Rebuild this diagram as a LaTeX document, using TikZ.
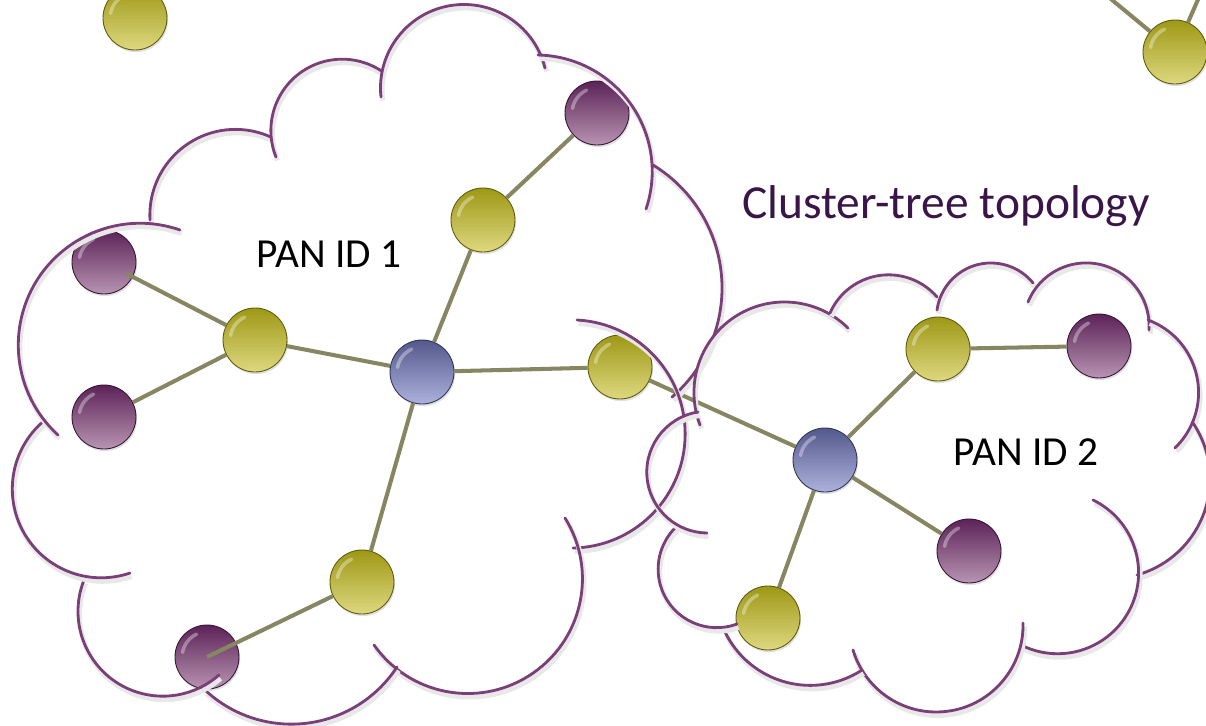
\documentclass[tikz,border=0pt]{standalone}
\usepackage{fontspec}
\setmainfont{Carlito}
\usepackage{xcolor}
\usepackage{tikz}
\usetikzlibrary{shadows}

\definecolor{linkgray}{RGB}{134,134,98}
\definecolor{cloudpurple}{RGB}{122,62,120}
\definecolor{titlepurple}{RGB}{58,21,72}
\definecolor{ytop}{RGB}{158,152,22}
\definecolor{ybot}{RGB}{222,216,128}
\definecolor{ptop}{RGB}{92,35,88}
\definecolor{pbot}{RGB}{184,148,178}
\definecolor{btop}{RGB}{84,89,140}
\definecolor{bbot}{RGB}{172,177,220}

\begin{document}
\begin{tikzpicture}[x=0.02cm,y=-0.02cm]
    \tikzstyle{ball}=[circle,minimum size=1.28cm,inner sep=0pt,line width=0.5pt,
        drop shadow={opacity=0.25,shadow xshift=0.6pt,shadow yshift=-1.2pt},
        path picture={\draw[white,opacity=0.35,line width=2pt,line cap=round]
            ([shift={(-0.49cm,0.09cm)}]path picture bounding box.center)
            arc[start angle=170,end angle=115,radius=0.5cm];}]
    \tikzstyle{yball}=[ball,top color=ytop,bottom color=ybot,draw=ytop!60!black]
    \tikzstyle{pball}=[ball,top color=ptop,bottom color=pbot,draw=ptop!60!black]
    \tikzstyle{bball}=[ball,top color=btop,bottom color=bbot,draw=btop!60!black]
    \tikzstyle{link}=[draw=linkgray,line width=2.3pt]
    \tikzstyle{cloudline}=[draw=cloudpurple,line width=1.6pt,line cap=round]
    \tikzstyle{cloudshadow}=[draw=black!9,line width=2.8pt,shift={(0.9pt,-2pt)}]
    \tikzstyle{label}=[font=\fontsize{23.5}{28}\selectfont,anchor=base]

    \clip (0,0) rectangle (1206,726);

    % one bump of a cloud: circular arc from #1,#2 through #3,#4 to #5,#6
    \newcommand{\cloudbump}[6]{%
      \pgfmathsetmacro{\cbax}{#1/100}\pgfmathsetmacro{\cbay}{#2/100}%
      \pgfmathsetmacro{\cbbx}{#3/100}\pgfmathsetmacro{\cbby}{#4/100}%
      \pgfmathsetmacro{\cbcx}{#5/100}\pgfmathsetmacro{\cbcy}{#6/100}%
      \pgfmathsetmacro{\cbd}{2*(\cbax*(\cbby-\cbcy)+\cbbx*(\cbcy-\cbay)+\cbcx*(\cbay-\cbby))}%
      \pgfmathsetmacro{\cbsa}{\cbax*\cbax+\cbay*\cbay}%
      \pgfmathsetmacro{\cbsb}{\cbbx*\cbbx+\cbby*\cbby}%
      \pgfmathsetmacro{\cbsc}{\cbcx*\cbcx+\cbcy*\cbcy}%
      \pgfmathsetmacro{\cbux}{(\cbsa*(\cbby-\cbcy)+\cbsb*(\cbcy-\cbay)+\cbsc*(\cbay-\cbby))/\cbd}%
      \pgfmathsetmacro{\cbuy}{(\cbsa*(\cbcx-\cbbx)+\cbsb*(\cbax-\cbcx)+\cbsc*(\cbbx-\cbax))/\cbd}%
      \pgfmathsetmacro{\cbr}{100*veclen(\cbax-\cbux,\cbay-\cbuy)}%
      \pgfmathsetmacro{\cbta}{atan2(\cbay-\cbuy,\cbax-\cbux)}%
      \pgfmathsetmacro{\cbtb}{atan2(\cbby-\cbuy,\cbbx-\cbux)}%
      \pgfmathsetmacro{\cbtc}{atan2(\cbcy-\cbuy,\cbcx-\cbux)}%
      \pgfmathsetmacro{\cbsw}{mod(\cbtc-\cbta+720,360)}%
      \pgfmathsetmacro{\cbtw}{mod(\cbtb-\cbta+720,360)}%
      \pgfmathsetmacro{\cbte}{\cbtw<\cbsw ? \cbta+\cbsw : \cbta+\cbsw-360}%
      \draw[cloudshadow] (#1,#2) arc[start angle=\cbta,end angle=\cbte,radius=\cbr];
      \draw[cloudline] (#1,#2) arc[start angle=\cbta,end angle=\cbte,radius=\cbr];}

    % nodes
    \coordinate (outA) at (1100,-10);
    \coordinate (outB) at (1200,-5);

    \node[yball] (Y0) at (135,18) {};
    \node[yball] (Ytr) at (1175,52) {};

    \node[bball] (C1) at (422,372) {};
    \node[yball] (Y1) at (483,220) {};
    \node[pball] (P1) at (597,113) {};
    \node[yball] (Y2) at (255,340) {};
    \node[pball] (P2) at (104,262) {};
    \node[pball] (P3) at (104,417) {};
    \node[yball] (Y3) at (620,367) {};
    \node[yball] (Y4) at (362,582) {};
    \node[pball] (P4) at (207,657) {};

    \node[bball] (C2) at (825,460) {};
    \node[yball] (Y5) at (938,349) {};
    \node[pball] (P5) at (1099,346) {};
    \node[pball] (P6) at (969,551) {};
    \node[yball] (Y6) at (768,618) {};

    % links
    \draw[link] (Ytr) -- (outA);
    \draw[link] (Ytr) -- (outB);
    \draw[link] (C1) -- (Y1);
    \draw[link] (Y1) -- (P1);
    \draw[link] (C1) -- (Y2);
    \draw[link] (Y2) -- (P3);
    \draw[link] (C1) -- (Y3);
    \draw[link] (C1) -- (Y4);
    \draw[link] (Y3) -- (C2);
    \draw[link] (C2) -- (Y5);
    \draw[link] (Y5) -- (P5);
    \draw[link] (C2) -- (P6);
    \draw[link] (C2) -- (Y6);
    \draw[link,shorten >=0.5cm] (Y2) -- (P2.center);
    \draw[link] (Y4) -- (P4.center);

    % cloud 1
    \cloudbump{150}{220}{205}{135}{273}{138}
    \cloudbump{276}{157}{300}{73}{383}{72}
    \cloudbump{381}{97}{420}{17}{545}{68}
    \cloudbump{538}{55}{630}{103}{646}{209}
    \cloudbump{653}{165}{722}{290}{672}{397}
    \cloudbump{577}{320}{684}{450}{573}{548}
    \cloudbump{565}{518}{527}{677}{374}{645}
    \cloudbump{397}{667}{297}{724}{205}{690}
    \cloudbump{84}{580}{113}{680}{219}{675}
    \cloudbump{45}{420}{13}{500}{130}{573}
    \cloudbump{180}{230}{33}{287}{58}{435}

    % cloud 2
    \cloudbump{700}{425}{719}{330}{848}{328}
    \cloudbump{830}{313}{893}{275}{937}{297}
    \cloudbump{937}{310}{990}{263}{1033}{283}
    \cloudbump{1028}{302}{1083}{263}{1149}{330}
    \cloudbump{1148}{320}{1198}{383}{1175}{448}
    \cloudbump{1193}{423}{1210}{480}{1137}{575}
    \cloudbump{1093}{500}{1131}{607}{1021}{645}
    \cloudbump{1023}{623}{936}{712}{853}{650}
    \cloudbump{862}{670}{802}{685}{725}{632}
    \cloudbump{737}{624}{662}{590}{676}{527}
    \cloudbump{698}{412}{647}{467}{707}{533}

    % texts
    \node[label] (pan1) at (329,267) {PAN ID 1};
    \node[label] (pan2) at (1026,465) {PAN ID 2};
    \node[font=\fontsize{27}{32}\selectfont,anchor=base,text=titlepurple] (title) at (946,218) {Cluster-tree topology};

\end{tikzpicture}
\end{document}
